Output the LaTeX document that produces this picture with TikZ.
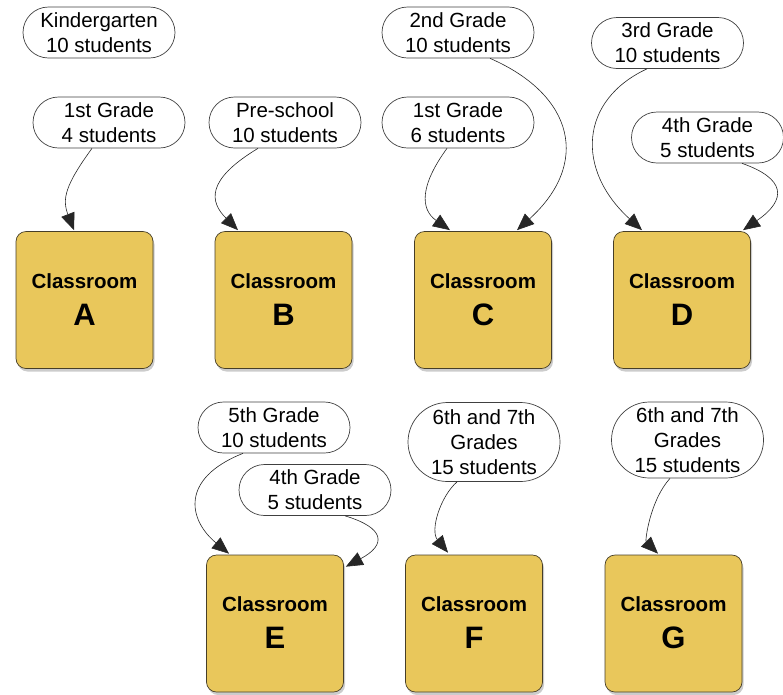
\documentclass[tikz,border=0pt]{standalone}
\usepackage{fontspec}
\setmainfont{Liberation Sans}
\usetikzlibrary{shapes.misc,arrows.meta,shadows,calc}
\definecolor{roomfill}{RGB}{233,199,91}
\definecolor{roomedge}{RGB}{70,62,40}
\begin{document}
\begin{tikzpicture}[x=1pt,y=-1pt,
  grade/.style={rounded rectangle, draw=black!75, line width=0.7pt, fill=white,
    minimum width=152pt, minimum height=51pt, inner sep=0pt, align=center,
    font=\fontsize{20.5}{25}\selectfont},
  room/.style={draw=roomedge, line width=0.7pt, fill=roomfill, rounded corners=10pt,
    minimum width=137pt, minimum height=137pt, inner sep=0pt,
    drop shadow={shadow xshift=1.5pt, shadow yshift=-3pt, opacity=0.4}},
  roomword/.style={anchor=base, inner sep=0pt, font=\bfseries\fontsize{20.5}{25}\selectfont},
  roomletter/.style={anchor=base, inner sep=0pt, font=\bfseries\fontsize{31}{31}\selectfont},
  flow/.style={draw=black!85, line width=0.6pt, -{Triangle[length=17pt,width=14pt]}}
]
\path[use as bounding box] (0,0) rectangle (783,694);

% classrooms
\foreach \n/\x/\y in {A/84.5/300, B/283.5/300, C/483/300, D/682/300,
                      E/275/623.5, F/474/623.5, G/673.5/623.5}{
  \node[room] (\n) at (\x,\y) {};
  \node[roomword] (\n w) at ($(\n.center)+(0,-12)$) {Classroom};
  \node[roomletter] (\n l) at ($(\n.center)+(0,25)$) {\n};
}

% grade groups
\node[grade] (k)  at (99,32.5)    {Kindergarten\\10 students};
\node[grade] (a1) at (109,122.5)  {1st Grade\\4 students};
\node[grade] (pre) at (285,122.5) {Pre-school\\10 students};
\node[grade] (c2) at (458,32.5)   {2nd Grade\\10 students};
\node[grade] (c1) at (458,122.5)  {1st Grade\\6 students};
\node[grade] (d1) at (667.5,43)   {3rd Grade\\10 students};
\node[grade] (d2) at (707.5,137.5) {4th Grade\\5 students};
\node[grade] (e1) at (274,427.5)  {5th Grade\\10 students};
\node[grade] (e2) at (315,490)    {4th Grade\\5 students};
\node[grade, minimum height=79pt] (f1) at (484,442) {6th and 7th\\Grades\\15 students};
\node[grade, minimum height=76pt] (g1) at (687.5,440) {6th and 7th\\Grades\\15 students};

% assignments
\draw[flow] ($(a1.south)+(-17,0)$) .. controls +(-27,37) and +(-12,-31) .. ($(A.north)+(-10.5,-1)$);
\draw[flow] ($(pre.south)+(-27,0)$) .. controls +(-53,32) and +(-28,-28) .. ($(B.north)+(-45.5,-1)$);
\draw[flow] ($(c1.south)+(-11,0)$) .. controls +(-27,37) and +(-30,-21) .. ($(C.north)+(-33,-1)$);
\draw[flow] ($(c2.south)+(32,0)$) .. controls +(85,37) and +(73,-66) .. ($(C.north)+(34,-1)$);
\draw[flow] ($(d1.south)+(-20.5,0)$) .. controls +(-67,31) and +(-67,-61) .. ($(D.north)+(-40,-1)$);
\draw[flow] ($(d2.south)+(34.5,0)$) .. controls +(43,15) and +(45,-31) .. ($(D.north)+(61,-1)$);
\draw[flow] ($(e1.south)+(-31,0)$) .. controls +(-63,25) and +(-41,-34) .. ($(E.north)+(-46,-1)$);
\draw[flow] ($(e2.south)+(30,0)$) .. controls +(40,12) and +(41,-22) .. ($(E.north east)+(2,12)$);
\draw[flow] ($(f1.south)+(-27,0)$) .. controls +(-17,15) and +(-18,-22) .. ($(F.north)+(-26,-2)$);
\draw[flow] ($(g1.south)+(-17.5,0)$) .. controls +(-20,22) and +(-13,-13) .. ($(G.north)+(-15.5,-1)$);
\end{tikzpicture}
\end{document}
